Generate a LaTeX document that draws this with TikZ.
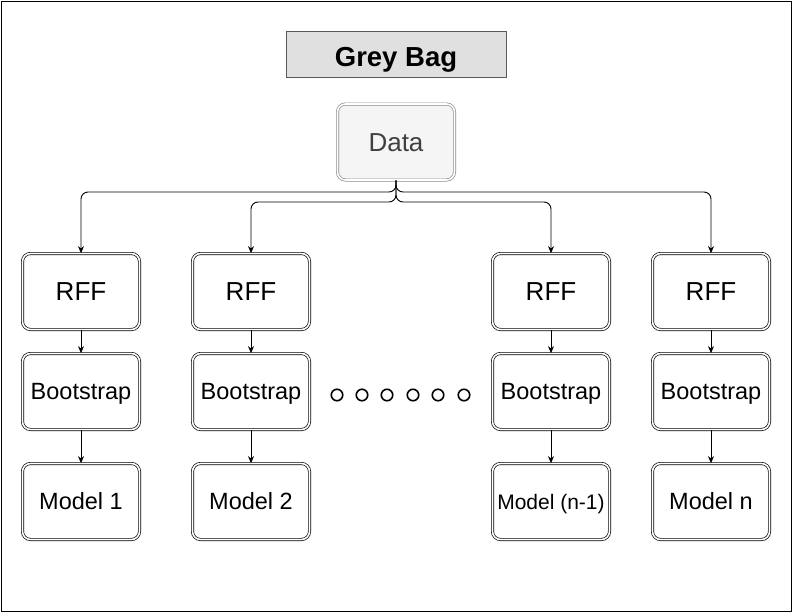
\documentclass[tikz,border=0pt]{standalone}
\usepackage{fontspec}
\setmainfont{Liberation Sans}
\usetikzlibrary{arrows.meta}
\begin{document}
\begin{tikzpicture}[x=1pt,y=-1pt,
  box/.style={draw, double, double distance=1.6pt, line width=0.7pt, rounded corners=8pt, minimum width=117pt, minimum height=76pt, inner sep=0pt, fill=white, text depth=0pt},
  arr/.style={-{Stealth[length=7pt,width=6pt]}, line width=0.9pt},
  br/.style={arr, rounded corners=7pt},
  dot/.style={draw, circle, line width=1.6pt, minimum size=11.5pt, inner sep=0pt}]
\useasboundingbox (0,0) rectangle (793,613);
\draw[line width=1pt] (1,1) rectangle (791,611);
\node[draw=black!65, fill=black!12, line width=1pt, minimum width=220pt, minimum height=46pt, inner sep=0pt, text height=25.7pt, text depth=0pt, font=\fontsize{27.5}{30}\selectfont\bfseries] (title) at (396,54) {Grey Bag};
\node[box, draw=black!45, fill=black!4, text=black!75, text height=18.6pt, font=\fontsize{26}{30}\selectfont] (data) at (396,142) {Data};
\foreach \i/\x/\m/\f/\h in {1/81/Model 1/23.5/16.8, 2/251/Model 2/23.5/16.8, 3/551/Model (n-1)/21/15, 4/711/Model n/23.5/16.8}{
  \node[box, text height=18.6pt, font=\fontsize{26}{30}\selectfont] (rff\i) at (\x,291.5) {RFF};
  \node[box, text height=16.8pt, font=\fontsize{23.5}{28}\selectfont] (bs\i) at (\x,391.5) {Bootstrap};
  \node[box, text height=\h pt, font=\fontsize{\f}{28}\selectfont] (mod\i) at (\x,501.5) {\m};
  \draw[arr] (rff\i) -- (bs\i);
  \draw[arr] (bs\i) -- (mod\i);
}
\coordinate (c1) at (396,192);
\coordinate (c2) at (396,202);
\draw[br] (data.south) -- (c1) -| (rff1.north);
\draw[br] (data.south) -- (c1) -| (rff4.north);
\draw[br] (data.south) -- (c2) -| (rff2.north);
\draw[br] (data.south) -- (c2) -| (rff3.north);
\foreach \j/\x in {1/337,2/362,3/387,4/413,5/438,6/464}{
  \node[dot] (d\j) at (\x,395) {};
}
\end{tikzpicture}
\end{document}
